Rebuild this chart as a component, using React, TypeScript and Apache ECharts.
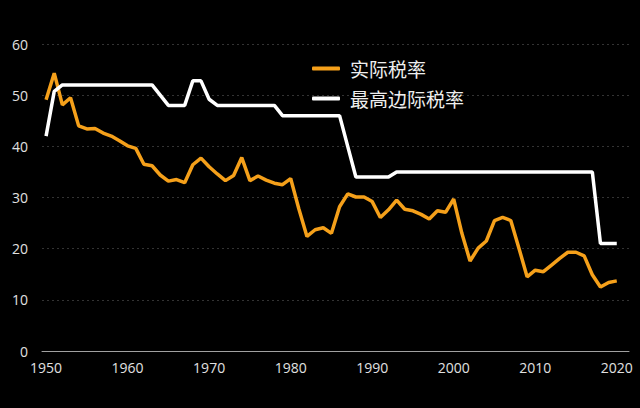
import React, { useEffect, useRef } from "react";
import * as echarts from "echarts";

const years: string[] = [];
for (let y = 1950; y <= 2021; y++) years.push(String(y));

const effectiveRate = [
  49.1, 54.3, 48.1, 49.5, 44.0, 43.4, 43.5, 42.6, 42.0, 41.1,
  40.1, 39.6, 36.5, 36.2, 34.4, 33.2, 33.5, 32.9, 36.4, 37.7,
  36.0, 34.6, 33.3, 34.3, 37.8, 33.3, 34.2, 33.4, 32.8, 32.5,
  33.7, 27.8, 22.4, 23.7, 24.1, 23.0, 28.2, 30.7, 30.1, 30.1,
  29.2, 26.1, 27.6, 29.5, 27.7, 27.4, 26.7, 25.8, 27.4, 27.1,
  29.7, 23.0, 17.6, 20.1, 21.5, 25.5, 26.1, 25.5, 20.1, 14.5,
  15.8, 15.5, 16.8, 18.1, 19.3, 19.3, 18.6, 14.9, 12.5, 13.4,
  13.7,
];

const topMarginalRate = [
  42, 50.75, 52, 52, 52, 52, 52, 52, 52, 52,
  52, 52, 52, 52, 50, 48, 48, 48, 52.8, 52.8,
  49.2, 48, 48, 48, 48, 48, 48, 48, 48, 46,
  46, 46, 46, 46, 46, 46, 46, 40, 34, 34,
  34, 34, 34, 35, 35, 35, 35, 35, 35, 35,
  35, 35, 35, 35, 35, 35, 35, 35, 35, 35,
  35, 35, 35, 35, 35, 35, 35, 35, 21, 21,
  21,
];

const seriesNames = ["实际税率", "最高边际税率"];
const yTicks = { min: 0, max: 60, interval: 10 };

export default function App() {
  const ref = useRef<HTMLDivElement>(null);
  useEffect(() => {
    document.body.style.margin = "0";
    document.body.style.background = "#000";
    const chart = echarts.init(ref.current!, null, { renderer: "svg" });
    chart.setOption({
      animation: false,
      backgroundColor: "#000",
      textStyle: { fontFamily: "'Open Sans', 'Noto Sans CJK SC', sans-serif" },
      grid: { left: 42, right: 11, top: 44, bottom: 57, containLabel: false },
      legend: {
        orient: "vertical",
        left: 307,
        top: 54,
        itemGap: 11,
        itemWidth: 28,
        itemHeight: 4,
        icon: "roundRect",
        data: seriesNames,
        textStyle: {
          color: "#eeeeee",
          fontSize: 19,
          lineHeight: 19,
          fontFamily: "'Noto Sans CJK SC', sans-serif",
          padding: [0, 0, 0, 5],
        },
      },
      xAxis: {
        type: "category",
        data: years,
        boundaryGap: true,
        axisLine: { show: true, lineStyle: { color: "#a0a0a0", width: 1 } },
        axisTick: { show: false },
        axisLabel: { interval: 9, color: "#e0e0e0", fontSize: 14, margin: 9 },
        splitLine: { show: false },
      },
      yAxis: {
        type: "value",
        min: yTicks.min,
        max: yTicks.max,
        interval: yTicks.interval,
        axisLine: { show: false },
        axisTick: { show: false },
        axisLabel: { color: "#e0e0e0", fontSize: 14, margin: 14 },
        splitLine: { show: true, lineStyle: { color: "#333333", type: [2, 3], width: 1 } },
      },
      series: [
        {
          name: seriesNames[0],
          type: "line",
          data: effectiveRate,
          showSymbol: false,
          symbol: "none",
          lineStyle: { color: "#f5a01a", width: 3.5 },
          itemStyle: { color: "#f5a01a" },
        },
        {
          name: seriesNames[1],
          type: "line",
          data: topMarginalRate,
          showSymbol: false,
          symbol: "none",
          lineStyle: { color: "#ffffff", width: 3.5 },
          itemStyle: { color: "#ffffff" },
        },
      ],
    });
    return () => chart.dispose();
  }, []);
  return <div ref={ref} style={{ width: 640, height: 408 }} />;
}
